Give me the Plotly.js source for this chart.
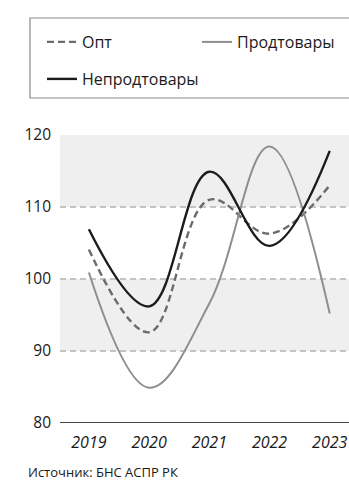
<!DOCTYPE html>
<html>
<head>
<meta charset="utf-8">
<script src="https://cdn.plot.ly/plotly-3.0.1.min.js"></script>
<style>
  html, body { margin: 0; padding: 0; background: #fff; }
  #chart { width: 349px; height: 481px; }
</style>
</head>
<body>
<div id="chart"></div>
<script>
// Индексы цен (предыдущий год = 100)
const years = ['2019', '2020', '2021', '2022', '2023'];
const opt = [104.1, 92.6, 111.0, 106.3, 113.0];
const prodtovary = [100.9, 84.9, 96.6, 118.4, 95.2];
const neprodtovary = [106.9, 96.2, 114.9, 104.6, 117.8];
const yTicks = [80, 90, 100, 110, 120];
const shadedBands = [[90, 100], [110, 120]];

const FONT = '"Open Sans", "Noto Sans", sans-serif';
const W = 349, H = 481;

const traces = [
  {
    x: years, y: opt, name: 'Опт', type: 'scatter', mode: 'lines',
    line: { shape: 'spline', smoothing: 1.1, color: '#6b6b6b', width: 2.4, dash: '7px,4px' },
    legend: 'legend'
  },
  {
    x: years, y: prodtovary, name: 'Продтовары', type: 'scatter', mode: 'lines',
    line: { shape: 'spline', smoothing: 1.1, color: '#8e8e8e', width: 2 },
    legend: 'legend2'
  },
  {
    x: years, y: neprodtovary, name: 'Непродтовары', type: 'scatter', mode: 'lines',
    line: { shape: 'spline', smoothing: 1.1, color: '#1c1c1c', width: 2.4 },
    legend: 'legend3'
  }
];

const shapes = shadedBands.map(b => ({
  type: 'rect', xref: 'paper', yref: 'y', x0: 0, x1: 1, y0: b[0], y1: b[1],
  fillcolor: '#efefef', line: { width: 0 }, layer: 'below'
}));

// рамка вокруг легенды
shapes.push({
  type: 'rect', xref: 'paper', yref: 'paper',
  x0: (30 - 60) / 289, x1: 1.1, y0: (423 - 98) / 288, y1: (423 - 18) / 288,
  line: { color: '#8a8a8a', width: 1.2 }, fillcolor: 'rgba(0,0,0,0)'
});

// ось X снизу
shapes.push({
  type: 'line', xref: 'paper', yref: 'y', x0: 0, x1: 1, y0: 80, y1: 80,
  line: { color: '#444', width: 2 }
});

const legendBase = {
  orientation: 'h', xref: 'container', yref: 'container',
  xanchor: 'left', yanchor: 'middle',
  font: { family: FONT, size: 16, color: '#1a1a1a' },
  bgcolor: 'rgba(0,0,0,0)', borderwidth: 0
};

const layout = {
  width: W, height: H,
  margin: { l: 60, r: 0, t: 135, b: 58, pad: 0 },
  paper_bgcolor: '#fff', plot_bgcolor: '#fff',
  font: { family: FONT, size: 15, color: '#1a1a1a' },
  showlegend: true,
  legend: Object.assign({}, legendBase, { x: 42 / W, y: 1 - 42 / H }),
  legend2: Object.assign({}, legendBase, { x: 197 / W, y: 1 - 42 / H }),
  legend3: Object.assign({}, legendBase, { x: 42 / W, y: 1 - 79 / H }),
  xaxis: {
    type: 'category', range: [-0.48, 4.32],
    showgrid: false, zeroline: false, showline: false,
    ticks: '', tickfont: { family: FONT, size: 16, color: '#1a1a1a', style: 'italic' },
    ticklabelstandoff: 8, fixedrange: true
  },
  yaxis: {
    range: [80, 120], tickvals: yTicks, ticktext: yTicks.map(String),
    showgrid: true, gridcolor: '#c4c4c4', gridwidth: 1.5, griddash: '6px,4px',
    zeroline: false, showline: false, ticks: '',
    tickfont: { family: FONT, size: 15.5, color: '#1a1a1a' },
    ticklabelstandoff: 8, fixedrange: true
  },
  shapes: shapes,
  annotations: [{
    text: 'Источник: БНС АСПР РК', xref: 'paper', yref: 'paper',
    x: (26 - 60) / 289, y: (423 - 472) / 288, xanchor: 'left', yanchor: 'middle',
    showarrow: false, font: { family: FONT, size: 13, color: '#1a1a1a' }
  }]
};

Plotly.newPlot('chart', traces, layout, { displayModeBar: false, staticPlot: true });
</script>
</body>
</html>
